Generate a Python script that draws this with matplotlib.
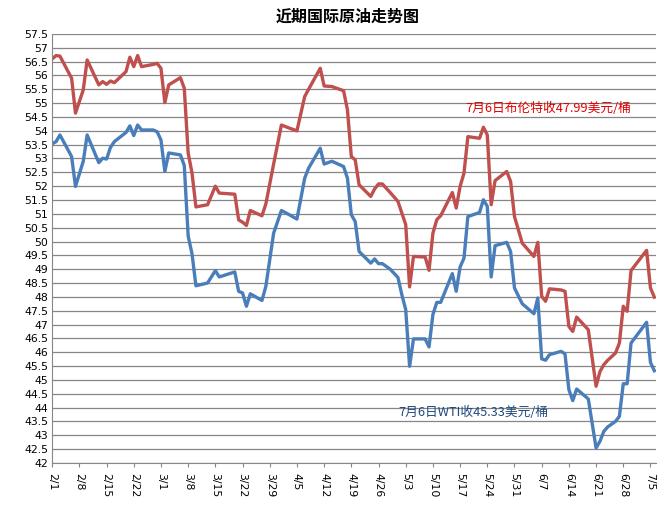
import pandas as pd
import numpy as np
import matplotlib
matplotlib.use("Agg")
import matplotlib.pyplot as plt

plt.rcParams['font.family'] = ['Noto Sans CJK SC', 'DejaVu Sans']

# 读图估计的数据（2017年）
dates = ["2017-02-01", "2017-02-02", "2017-02-03", "2017-02-06", "2017-02-07", "2017-02-09",
         "2017-02-10", "2017-02-13", "2017-02-14", "2017-02-15", "2017-02-16", "2017-02-17",
         "2017-02-20", "2017-02-21", "2017-02-22", "2017-02-23", "2017-02-24", "2017-02-27",
         "2017-02-28", "2017-03-01", "2017-03-02", "2017-03-03", "2017-03-06", "2017-03-07",
         "2017-03-08", "2017-03-09", "2017-03-10", "2017-03-13", "2017-03-15", "2017-03-16",
         "2017-03-20", "2017-03-21", "2017-03-22", "2017-03-23", "2017-03-24", "2017-03-27",
         "2017-03-28", "2017-03-30", "2017-04-01", "2017-04-03", "2017-04-05", "2017-04-07",
         "2017-04-08", "2017-04-11", "2017-04-12", "2017-04-14", "2017-04-17", "2017-04-18",
         "2017-04-19", "2017-04-20", "2017-04-21", "2017-04-24", "2017-04-25", "2017-04-26",
         "2017-04-27", "2017-04-29", "2017-05-01", "2017-05-02", "2017-05-03", "2017-05-04",
         "2017-05-05", "2017-05-08", "2017-05-09", "2017-05-10", "2017-05-11", "2017-05-12",
         "2017-05-15", "2017-05-16", "2017-05-17", "2017-05-18", "2017-05-19", "2017-05-22",
         "2017-05-23", "2017-05-24", "2017-05-25", "2017-05-26", "2017-05-29", "2017-05-30",
         "2017-05-31", "2017-06-02", "2017-06-05", "2017-06-06", "2017-06-07", "2017-06-08",
         "2017-06-09", "2017-06-12", "2017-06-13", "2017-06-14", "2017-06-15", "2017-06-16",
         "2017-06-19", "2017-06-21", "2017-06-22", "2017-06-23", "2017-06-24", "2017-06-26",
         "2017-06-27", "2017-06-28", "2017-06-29", "2017-06-30", "2017-07-04", "2017-07-05",
         "2017-07-06"]

brent = [56.60, 56.72, 56.70, 55.90, 54.64, 55.48,
         56.56, 55.66, 55.78, 55.68, 55.80, 55.74,
         56.14, 56.66, 56.32, 56.72, 56.32, 56.40,
         56.44, 56.26, 55.02, 55.66, 55.92, 55.54,
         53.20, 52.47, 51.25, 51.33, 52.00, 51.75,
         51.71, 50.78, 50.70, 50.58, 51.12, 50.93,
         51.36, 52.80, 54.21, 54.10, 54.00, 55.24,
         55.50, 56.26, 55.62, 55.60, 55.45, 54.76,
         53.07, 52.95, 52.05, 51.63, 51.90, 52.08,
         52.08, 51.77, 51.45, 51.03, 50.61, 48.36,
         49.46, 49.44, 48.96, 50.30, 50.79, 50.93,
         51.77, 51.21, 51.99, 52.47, 53.79, 53.73,
         54.13, 53.85, 51.33, 52.20, 52.53, 52.17,
         50.90, 49.94, 49.46, 49.97, 48.02, 47.84,
         48.29, 48.25, 48.20, 46.93, 46.75, 47.27,
         46.81, 44.77, 45.30, 45.55, 45.71, 45.97,
         46.33, 47.66, 47.48, 48.95, 49.68, 48.32,
         47.99]

wti = [53.53, 53.61, 53.85, 53.07, 51.99, 52.90,
       53.85, 52.85, 53.01, 52.98, 53.40, 53.61,
       53.94, 54.18, 53.83, 54.21, 54.03, 54.03,
       53.97, 53.67, 52.53, 53.20, 53.13, 52.75,
       50.20, 49.55, 48.40, 48.50, 48.95, 48.72,
       48.90, 48.20, 48.14, 47.66, 48.11, 47.87,
       48.38, 50.30, 51.12, 50.97, 50.81, 52.29,
       52.65, 53.37, 52.80, 52.90, 52.71, 52.29,
       50.97, 50.72, 49.64, 49.22, 49.37, 49.20,
       49.20, 49.00, 48.70, 48.08, 47.54, 45.49,
       46.48, 46.48, 46.19, 47.36, 47.80, 47.80,
       48.84, 48.20, 49.08, 49.40, 50.90, 51.05,
       51.51, 51.27, 48.72, 49.85, 49.97, 49.64,
       48.32, 47.75, 47.39, 47.96, 45.76, 45.71,
       45.91, 46.03, 45.94, 44.65, 44.25, 44.67,
       44.31, 42.54, 42.78, 43.14, 43.30, 43.50,
       43.68, 44.86, 44.86, 46.33, 47.08, 45.63,
       45.33]

title = "近期国际原油走势图"
brent_note = "7月6日布伦特收47.99美元/桶"
wti_note = "7月6日WTI收45.33美元/桶"

start = pd.Timestamp("2017-02-01")
days = (pd.to_datetime(dates) - start).days.values

fig = plt.figure(figsize=(6.69, 5.07), dpi=100)
ax = fig.add_axes([0.078, 0.087, 0.903, 0.846])

ax.plot(days, brent, color='#C0504D', linewidth=2.4, solid_joinstyle='round')
ax.plot(days, wti, color='#4A7EBB', linewidth=2.4, solid_joinstyle='round')

ax.set_ylim(42, 57.5)
yt = np.arange(42, 57.51, 0.5)
ax.set_yticks(yt)
ax.set_yticklabels([f"{v:g}" for v in yt], fontsize=7.8, family='DejaVu Sans')
ax.yaxis.grid(True, color='#868686', linewidth=0.9)
ax.set_axisbelow(True)

xt = np.arange(0, 155, 7)
ax.set_xticks(xt)
xlabels = [f"{d.month}/{d.day}" for d in (start + pd.to_timedelta(xt, unit='D'))]
ax.set_xticklabels(xlabels, rotation=-90, fontsize=7.8, family='DejaVu Sans')
ax.set_xlim(0, 155.5)

ax.tick_params(axis='y', length=0, pad=3)
ax.tick_params(axis='x', length=3, color='#868686', pad=4)
for s in ['top', 'right']:
    ax.spines[s].set_visible(False)
ax.spines['left'].set_color('#868686')
ax.spines['bottom'].set_color('#868686')

fig.text(0.52, 0.968, title, ha='center', va='center', fontsize=11.5, fontweight='bold')
ax.text(106.3, 54.8, brent_note, color='#E00000', fontsize=9.2, va='center')
ax.text(89.2, 43.82, wti_note, color='#1F497D', fontsize=9.2, va='center')

fig.savefig("out.png", dpi=100)
